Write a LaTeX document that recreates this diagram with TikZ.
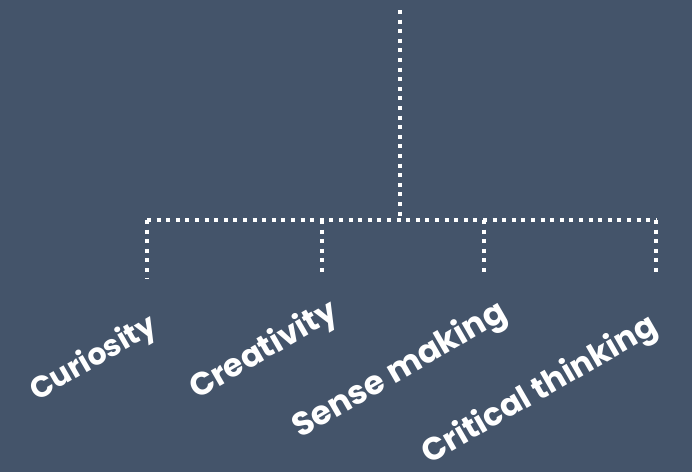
\documentclass[tikz,border=0pt]{standalone}
\usepackage{fontspec}
\setmainfont{Poppins}
\definecolor{bg}{HTML}{44546A}
\tikzset{
  dotline/.style={draw=white, line width=4pt, dash pattern=on 4pt off 5.6pt},
  lbl/.style={text=white, rotate=30, anchor=center, inner sep=0pt}
}
\newcommand{\lblfont}[1]{\bfseries\fontsize{#1}{#1}\selectfont}
\begin{document}
\begin{tikzpicture}[x=1pt,y=-1pt]
\fill[bg] (0,0) rectangle (692,472);
\useasboundingbox (0,0) rectangle (692,472);
\coordinate (top) at (400,10);
\coordinate (j) at (400,220);
\coordinate (h1) at (147,220);
\coordinate (h2) at (322,220);
\coordinate (h3) at (484,220);
\coordinate (h4) at (656,220);
\coordinate (d1) at (147,279);
\coordinate (d2) at (322,277);
\coordinate (d3) at (484,277);
\coordinate (d4) at (656,277);
\draw[dotline] (top) -- (j);
\draw[dotline] (h1) -- (h4);
\draw[dotline] (h1) -- (d1);
\draw[dotline] (h2) -- (d2);
\draw[dotline] (h3) -- (d3);
\draw[dotline] (h4) -- (d4);
\node[lbl, font=\lblfont{30}] (c1) at (94,359) {Curiosity};
\node[lbl, font=\lblfont{32}] (c2) at (264,351) {Creativity};
\node[lbl, font=\lblfont{33}] (c3) at (400,371) {Sense making};
\node[lbl, font=\lblfont{32}] (c4) at (540,391) {Critical thinking};
\end{tikzpicture}
\end{document}
